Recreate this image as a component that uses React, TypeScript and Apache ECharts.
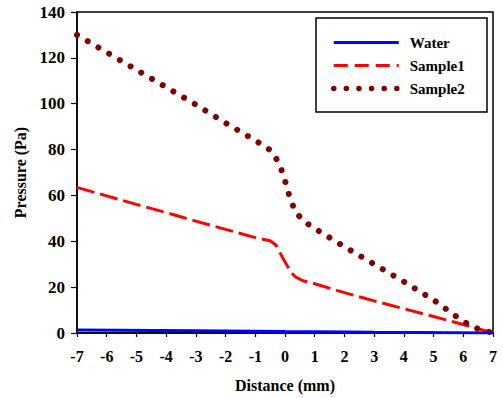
import React, { useEffect, useRef } from "react";
import * as echarts from "echarts";

const xTicks = [-7, 7, 1];
const yTicks = [0, 140, 20];

const waterDistance = [-7, -3, 0, 3, 7];
const waterPressure = [1.3, 1.0, 0.6, 0.3, 0];

const sample1Distance = [-7, -6, -5, -4, -3, -2, -1, -0.5, -0.3, -0.15, 0, 0.1, 0.2, 0.35, 0.6, 1, 2, 3, 4, 5, 6, 7];
const sample1Pressure = [63.5, 59.8, 56.1, 52.5, 48.8, 45.2, 41.6, 40.2, 38.3, 34.5, 31, 28.8, 26.5, 24.5, 22.8, 21.5, 17.6, 14, 10.6, 7.2, 3.7, 0];

const sample2Distance = [-7, -6, -5, -4, -3, -2, -1, -0.5, -0.25, -0.1, 0, 0.1, 0.2, 0.35, 0.6, 1, 2, 3, 4, 5, 6, 6.5, 7];
const sample2Pressure = [130, 122.4, 114.8, 107.2, 99.6, 91.6, 84, 79.8, 75.2, 70.5, 66.5, 61.8, 57.6, 53, 49, 45.6, 37.6, 30, 22.4, 14.4, 5.0, 1.8, 0];

const seriesNames = ["Water", "Sample1", "Sample2"];

const zip = (xs: number[], ys: number[]) => xs.map((x, i) => [x, ys[i]]);

const FONT = "'Times New Roman', 'Liberation Serif', serif";

const lineStyles: any[] = [
  { color: "#0000ff", width: 3, type: "solid" },
  { color: "#ff0000", width: 3, type: [18, 6] },
  { color: "#800000", width: 6, type: [0.01, 12.4], cap: "round" },
];
const legendLineStyles: any[] = [
  { color: "#0000ff", width: 3, type: "solid" },
  { color: "#ff0000", width: 3, type: [14, 7] },
  { color: "#800000", width: 5.5, type: [0.01, 12.6], cap: "round" },
];

export default function App() {
  const ref = useRef<HTMLDivElement>(null);
  useEffect(() => {
    if (!ref.current) return;
    const chart = echarts.init(ref.current, undefined, { renderer: "svg" });
    chart.setOption({
      animation: false,
      backgroundColor: "#ffffff",
      grid: {
        left: 77,
        top: 12,
        right: 10,
        bottom: 61,
        show: true,
        borderColor: "#000",
        borderWidth: 1.5,
        containLabel: false,
      },
      legend: {
        orient: "vertical",
        left: 331,
        top: 35,
        itemWidth: 65,
        itemHeight: 15,
        itemGap: 8,
        padding: 0,
        data: seriesNames.map((n, i) => ({
          name: n,
          itemStyle: { opacity: 0 },
          lineStyle: legendLineStyles[i],
        })),
        textStyle: {
          fontFamily: FONT,
          fontWeight: "bold",
          fontSize: 15,
          color: "#000",
          padding: [0, 0, 0, 6],
        },
      },
      graphic: [
        {
          type: "rect",
          shape: { x: 316, y: 18, width: 171, height: 94 },
          style: { fill: "none", stroke: "#000", lineWidth: 1.5 },
          z: 100,
        },
      ],
      xAxis: {
        type: "value",
        min: xTicks[0],
        max: xTicks[1],
        interval: xTicks[2],
        name: "Distance (mm)",
        nameLocation: "middle",
        nameGap: 44,
        nameTextStyle: { fontFamily: FONT, fontWeight: "bold", fontSize: 16, color: "#000" },
        axisLine: { show: true, onZero: false, lineStyle: { color: "#000", width: 1.5 } },
        axisTick: { show: true, inside: false, length: 4, lineStyle: { color: "#000", width: 1.2 } },
        axisLabel: { fontFamily: FONT, fontWeight: "bold", fontSize: 16, color: "#000", margin: 15 },
        splitLine: { show: false },
      },
      yAxis: {
        type: "value",
        min: yTicks[0],
        max: yTicks[1],
        interval: yTicks[2],
        name: "Pressure (Pa)",
        nameLocation: "middle",
        nameGap: 48,
        nameTextStyle: { fontFamily: FONT, fontWeight: "bold", fontSize: 16, color: "#000" },
        axisLine: { show: true, onZero: false, lineStyle: { color: "#000", width: 1.5 } },
        axisTick: { show: true, inside: false, length: 6, lineStyle: { color: "#000", width: 1.2 } },
        axisLabel: { fontFamily: FONT, fontWeight: "bold", fontSize: 17, color: "#000", margin: 12 },
        splitLine: { show: false },
      },
      series: [
        {
          name: seriesNames[0],
          type: "line",
          data: zip(waterDistance, waterPressure),
          symbol: "none",
          color: "#0000ff",
          lineStyle: lineStyles[0],
          z: 3,
        },
        {
          name: seriesNames[1],
          type: "line",
          data: zip(sample1Distance, sample1Pressure),
          symbol: "none",
          color: "#ff0000",
          lineStyle: lineStyles[1],
          z: 2,
        },
        {
          name: seriesNames[2],
          type: "line",
          data: zip(sample2Distance, sample2Pressure),
          symbol: "none",
          color: "#800000",
          lineStyle: lineStyles[2],
          z: 2,
        },
      ],
    });
    return () => chart.dispose();
  }, []);
  return <div ref={ref} style={{ width: 503, height: 398, position: "absolute", left: 0, top: 0 }} />;
}
